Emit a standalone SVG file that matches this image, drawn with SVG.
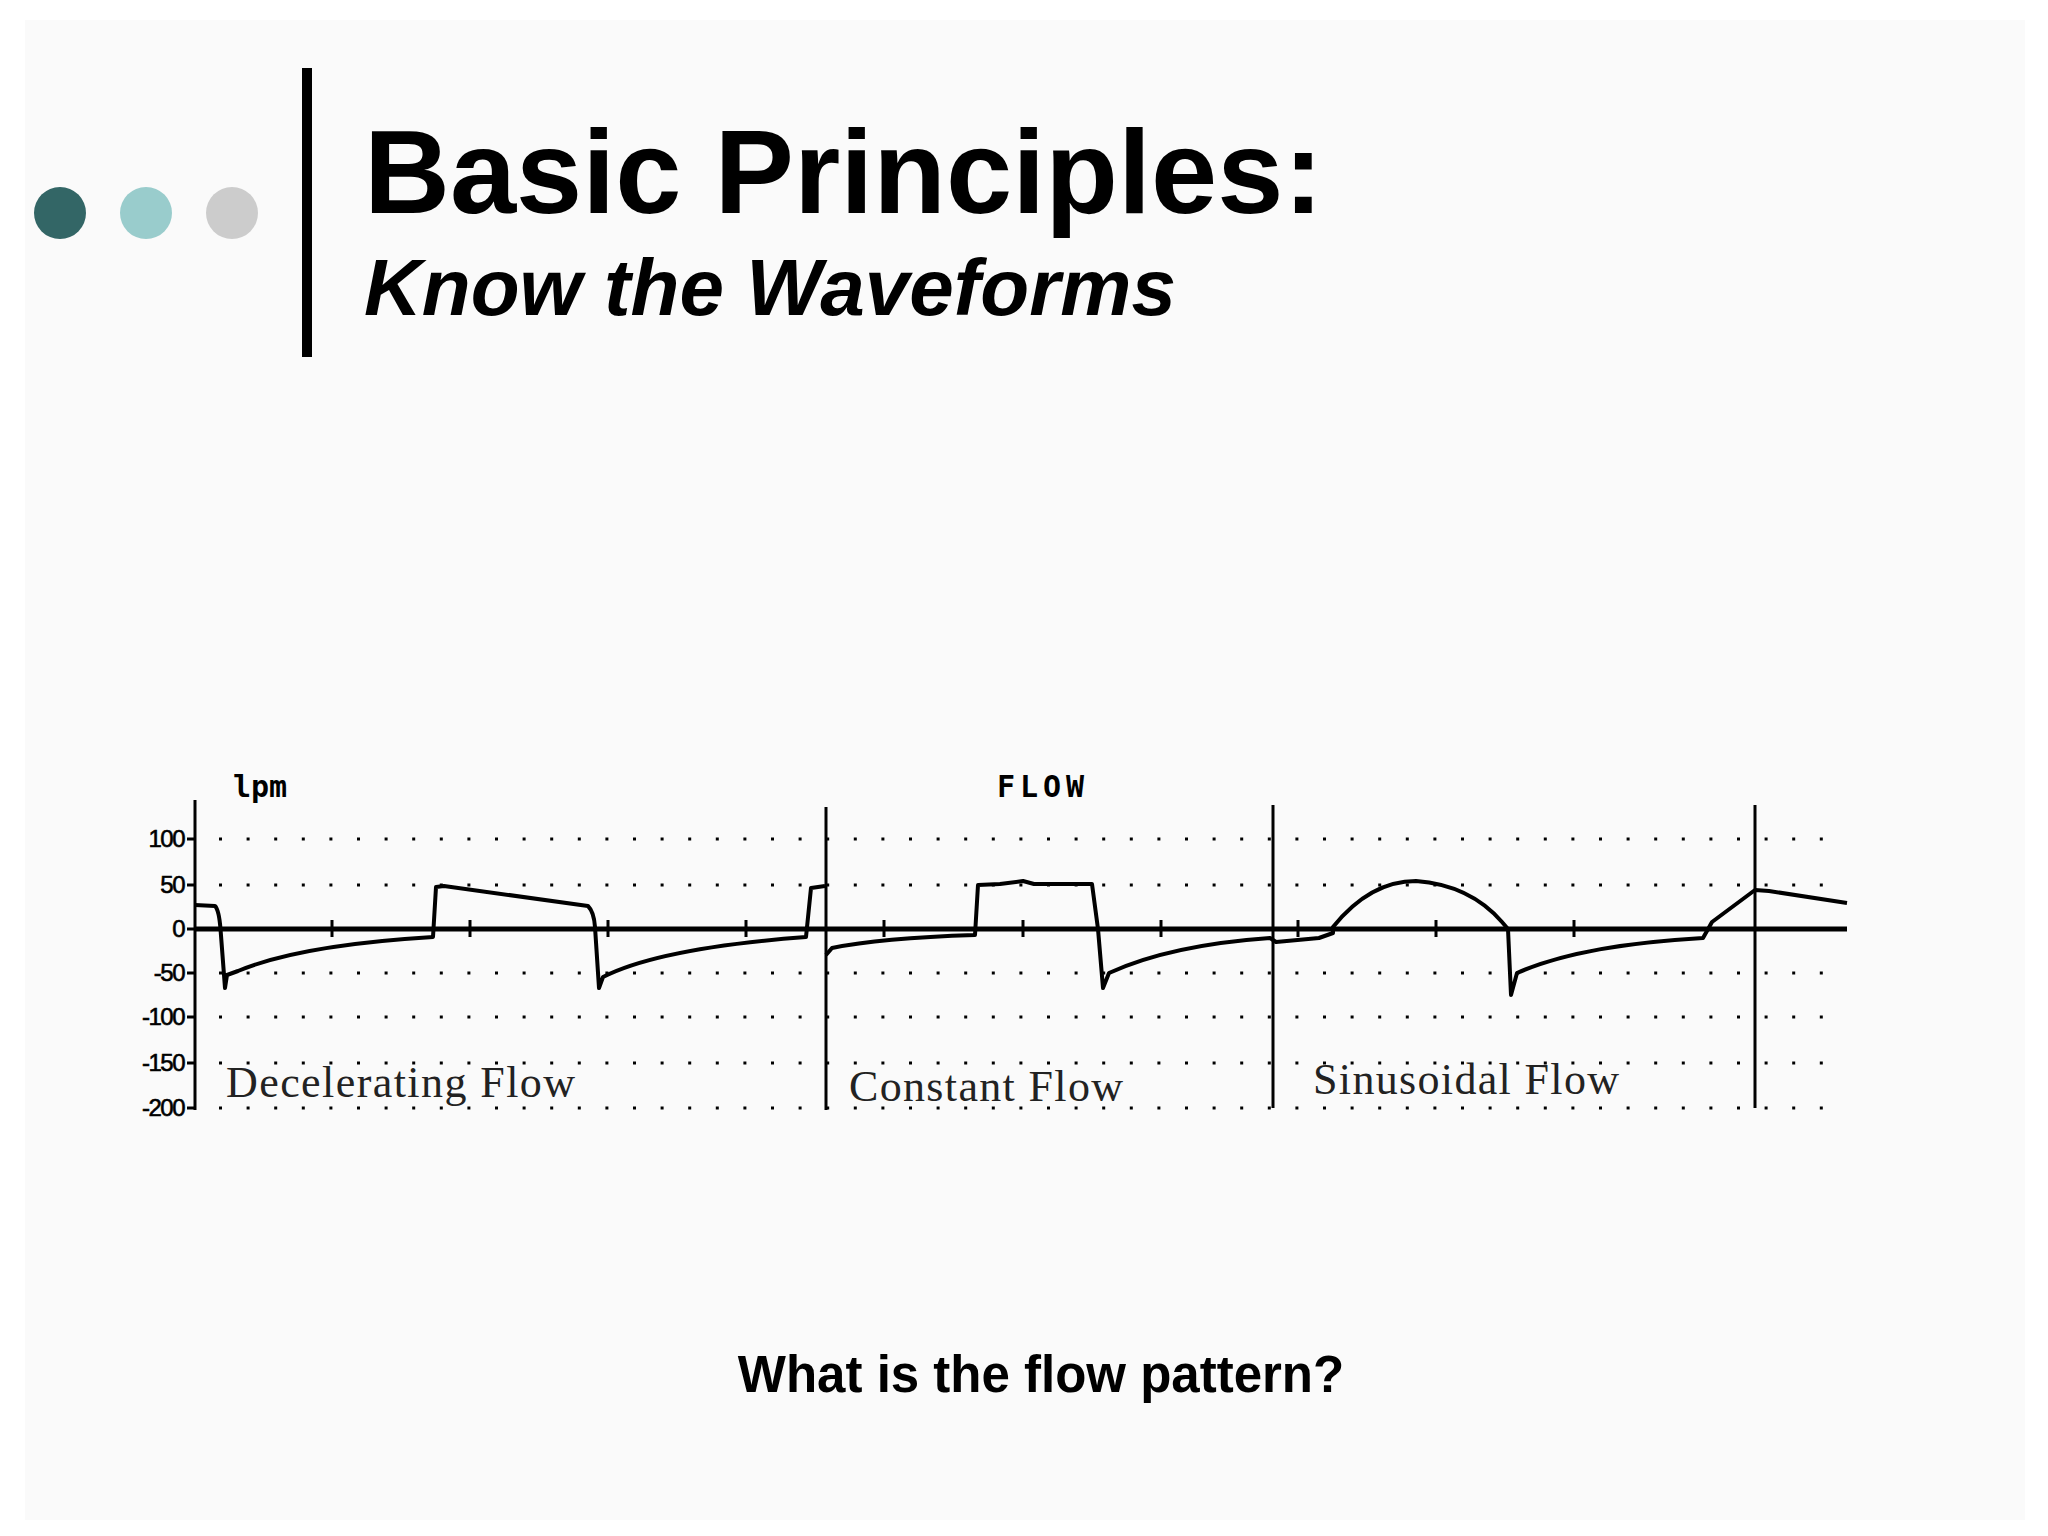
<svg xmlns="http://www.w3.org/2000/svg" width="2048" height="1536" viewBox="0 0 2048 1536">
<style>
.dots{stroke:#000;stroke-width:3;stroke-dasharray:3 24.6}
.ax{stroke:#000;stroke-width:3;fill:none}
.tr{stroke:#000;stroke-width:4;fill:none;stroke-linejoin:round}
.yl{font-family:"Liberation Sans",Arial,sans-serif;font-size:24px;text-anchor:end;letter-spacing:-1.5px;stroke:#000;stroke-width:0.6}
.wl{font-family:"Liberation Serif","Times New Roman",serif;font-size:44px;fill:#222}
</style>
<rect width="2048" height="1536" fill="#ffffff"/>
<rect x="25" y="20" width="2000" height="1500" fill="#fafafa"/>
<g id="bullets">
<circle cx="60" cy="213" r="26" fill="#336666"/>
<circle cx="146" cy="213" r="26" fill="#99cccc"/>
<circle cx="232" cy="213" r="26" fill="#cccccc"/>
</g>
<rect id="bar" x="302" y="68" width="10" height="289" fill="#000"/>
<g id="title" font-family="Liberation Sans,Arial,sans-serif" font-weight="bold">
<text x="364" y="213" font-size="119">Basic Principles:</text>
<text x="364" y="315" font-size="80" font-style="italic">Know the Waveforms</text>
</g>
<g id="chart">
<g id="grid">
<line class="dots" x1="219" y1="839" x2="1830" y2="839"/>
<line class="dots" x1="219" y1="885" x2="1830" y2="885"/>
<line class="dots" x1="219" y1="973" x2="1830" y2="973"/>
<line class="dots" x1="219" y1="1017" x2="1830" y2="1017"/>
<line class="dots" x1="219" y1="1063" x2="1830" y2="1063"/>
<line class="dots" x1="219" y1="1108" x2="1830" y2="1108"/>
</g>
<g id="axes">
<line class="ax" x1="195" y1="800" x2="195" y2="1110"/>
<line x1="195" y1="929" x2="1847" y2="929" stroke="#000" stroke-width="5"/>
<line class="ax" x1="826" y1="807" x2="826" y2="1110"/>
<line class="ax" x1="1273" y1="805" x2="1273" y2="1108"/>
<line class="ax" x1="1755" y1="805" x2="1755" y2="1108"/>
<path class="ax" d="M187 839H195M187 885H195M187 929H195M187 973H195M187 1017H195M187 1063H195M187 1108H195"/>
<path class="ax" d="M332 920V937M470 920V937M608 920V937M746 920V937M884 920V937M1023 920V937M1161 920V937M1298 920V937M1436 920V937M1574 920V937"/>
</g>
<g id="ylabels" class="yl">
<text x="184" y="847">100</text>
<text x="184" y="893">50</text>
<text x="184" y="937">0</text>
<text x="184" y="981">-50</text>
<text x="184" y="1025">-100</text>
<text x="184" y="1071">-150</text>
<text x="184" y="1116">-200</text>
</g>
<text x="233" y="797" font-family="DejaVu Sans Mono,monospace" font-weight="bold" font-size="30">lpm</text>
<text x="997" y="797" font-family="DejaVu Sans Mono,monospace" font-weight="bold" font-size="30" textLength="87">FLOW</text>
<g id="trace">
<path class="tr" d="M195 905L215 906Q219 910 220.5 929L225 988L227 975L238 971Q300 945 433 937L436 887L444 886L588 906Q594 912 595 927L599 988L603 977Q660 948 806 937L811 888L825 886"/>
<path class="tr" d="M826 955L832 948Q880 938 975 935L978 885L1000 884L1023 881L1034 884L1092 884L1098 929L1103 988L1109 973Q1170 945 1270 938L1276 942L1319 938L1333 933L1333 927Q1370 881 1416 881Q1470 885 1502 922L1508 929L1511 995L1517 973Q1580 945 1703 938L1712 922L1755 890L1769 891L1847 903"/>
</g>
<g id="wlabels" class="wl">
<text x="226" y="1097" textLength="349">Decelerating Flow</text>
<text x="849" y="1101" textLength="274">Constant Flow</text>
<text x="1313" y="1094" textLength="306">Sinusoidal Flow</text>
</g>
</g>
<text id="question" x="1041" y="1392" font-family="Liberation Sans,Arial,sans-serif" font-weight="bold" font-size="51" text-anchor="middle">What is the flow pattern?</text>
</svg>
